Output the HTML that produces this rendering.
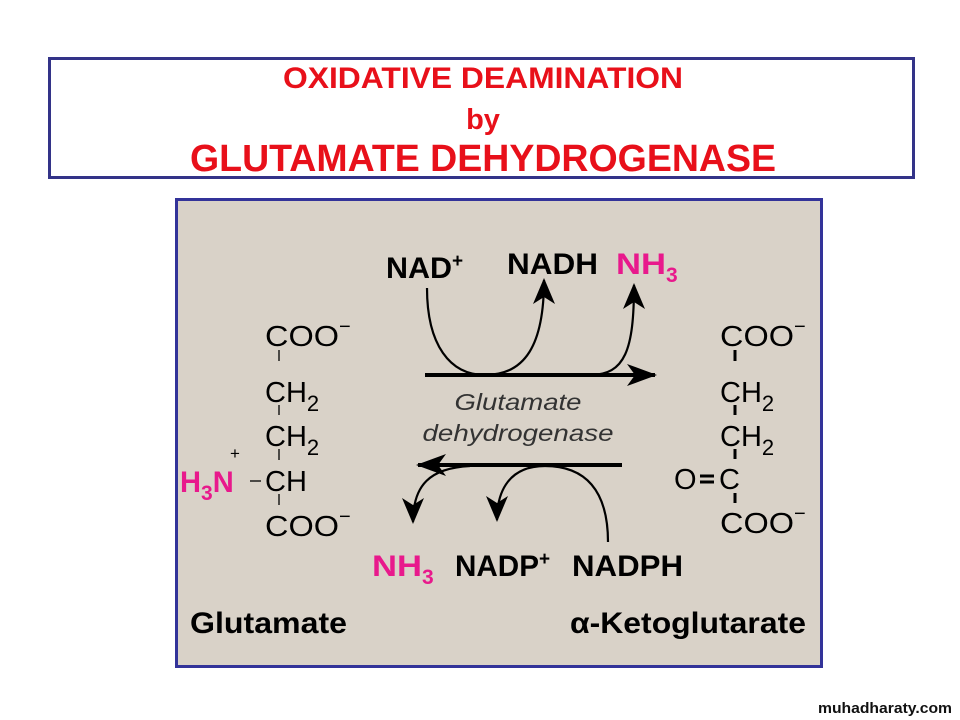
<!DOCTYPE html>
<html><head><meta charset="utf-8"><style>
html,body{margin:0;padding:0;background:#fff;width:960px;height:720px;overflow:hidden}
svg{display:block}
</style></head><body>
<svg width="960" height="720" viewBox="0 0 960 720" xmlns="http://www.w3.org/2000/svg" font-family="Liberation Sans, sans-serif">
<rect x="49.5" y="58.5" width="864" height="119" fill="#fff" stroke="#333388" stroke-width="3"/>
<g fill="#e8101a" font-weight="bold" text-anchor="middle">
<text x="483" y="88" font-size="30" textLength="400" lengthAdjust="spacingAndGlyphs">OXIDATIVE DEAMINATION</text>
<text x="483" y="129" font-size="29">by</text>
<text x="483" y="171" font-size="38" textLength="586" lengthAdjust="spacingAndGlyphs">GLUTAMATE DEHYDROGENASE</text>
</g>
<rect x="176.5" y="199.5" width="645" height="467" fill="#d9d2c8" stroke="#333399" stroke-width="3"/>
<defs>
<marker id="b" markerWidth="30" markerHeight="24" refX="28" refY="12" orient="auto" markerUnits="userSpaceOnUse" viewBox="0 0 30 24"><path d="M0,1 L30,12 L0,23 L8,12z" fill="#000"/></marker>
<marker id="c" markerWidth="26" markerHeight="24" refX="24" refY="12" orient="auto" markerUnits="userSpaceOnUse" viewBox="0 0 26 24"><path d="M0,1 L26,12 L0,23 L7,12z" fill="#000"/></marker></defs>
<g fill="none" stroke="#000">
<path d="M425,375 L655,375" stroke-width="4" marker-end="url(#b)"/>
<path d="M622,465 L418,465" stroke-width="4" marker-end="url(#b)"/>
<path d="M427,288 C427,345 450,375 485,375 C525,375 544,345 544,280" stroke-width="2.2" marker-end="url(#c)"/>
<path d="M590,375 C625,375 634,350 634,285" stroke-width="2.2" marker-end="url(#c)"/>
<path d="M608,542 C608,490 585,466 545,466 C510,466 497,490 497,520" stroke-width="2.2" marker-end="url(#c)"/>
<path d="M470,466 C430,468 413,485 413,522" stroke-width="2.2" marker-end="url(#c)"/>
</g>
<g font-weight="bold" font-size="30" fill="#000">
<text x="386" y="278"><tspan textLength="66" lengthAdjust="spacingAndGlyphs">NAD</tspan><tspan font-size="19" dy="-11">+</tspan></text>
<text x="507" y="274" textLength="91" lengthAdjust="spacingAndGlyphs">NADH</text>
<text x="616" y="274" fill="#e8198c"><tspan textLength="50" lengthAdjust="spacingAndGlyphs">NH</tspan><tspan font-size="21" dy="8">3</tspan></text>
<text x="372" y="576" fill="#e8198c"><tspan textLength="50" lengthAdjust="spacingAndGlyphs">NH</tspan><tspan font-size="21" dy="8">3</tspan></text>
<text x="455" y="576"><tspan textLength="84" lengthAdjust="spacingAndGlyphs">NADP</tspan><tspan font-size="19" dy="-11">+</tspan></text>
<text x="572" y="576" textLength="111" lengthAdjust="spacingAndGlyphs">NADPH</text>
<text x="190" y="633" textLength="157" lengthAdjust="spacingAndGlyphs">Glutamate</text>
<text x="570" y="633" textLength="236" lengthAdjust="spacingAndGlyphs">α-Ketoglutarate</text>
<text x="180" y="492" fill="#e8198c"><tspan textLength="21" lengthAdjust="spacingAndGlyphs">H</tspan><tspan font-size="21" dy="8">3</tspan><tspan dy="-8" textLength="21" lengthAdjust="spacingAndGlyphs">N</tspan></text>
</g>
<g font-style="italic" font-size="23" fill="#333" text-anchor="middle">
<text x="518" y="410" textLength="127" lengthAdjust="spacingAndGlyphs">Glutamate</text>
<text x="518" y="441" textLength="191" lengthAdjust="spacingAndGlyphs">dehydrogenase</text>
</g>
<g font-size="29" fill="#000">
<text x="265" y="346"><tspan textLength="74" lengthAdjust="spacingAndGlyphs">COO</tspan><tspan font-size="20" dy="-13">−</tspan></text>
<text x="265" y="402">CH<tspan font-size="22" dy="9">2</tspan></text>
<text x="265" y="446">CH<tspan font-size="22" dy="9">2</tspan></text>
<text x="265" y="491">CH</text>
<text x="265" y="536"><tspan textLength="74" lengthAdjust="spacingAndGlyphs">COO</tspan><tspan font-size="20" dy="-13">−</tspan></text>
<text x="230" y="459" font-size="17">+</text>
<text x="720" y="346"><tspan textLength="74" lengthAdjust="spacingAndGlyphs">COO</tspan><tspan font-size="20" dy="-13">−</tspan></text>
<text x="720" y="402">CH<tspan font-size="22" dy="9">2</tspan></text>
<text x="720" y="446">CH<tspan font-size="22" dy="9">2</tspan></text>
<text x="674" y="489">O</text>
<text x="719" y="489">C</text>
<text x="720" y="533"><tspan textLength="74" lengthAdjust="spacingAndGlyphs">COO</tspan><tspan font-size="20" dy="-13">−</tspan></text>
</g>
<g stroke="#000" stroke-width="1.3">
<line x1="279" y1="350" x2="279" y2="361"/>
<line x1="279" y1="405" x2="279" y2="415"/>
<line x1="279" y1="449" x2="279" y2="460"/>
<line x1="279" y1="494" x2="279" y2="505"/>
<line x1="250" y1="481" x2="261" y2="481"/>
</g>
<g stroke="#000" stroke-width="3">
<line x1="735" y1="350" x2="735" y2="361"/>
<line x1="735" y1="405" x2="735" y2="415"/>
<line x1="735" y1="449" x2="735" y2="459"/>
<line x1="735" y1="493" x2="735" y2="503"/>
<line x1="700" y1="476" x2="714" y2="476"/>
<line x1="700" y1="482" x2="714" y2="482"/>
</g>
<text x="818" y="713" font-size="15" font-weight="bold" fill="#111" textLength="134" lengthAdjust="spacingAndGlyphs">muhadharaty.com</text>
</svg>
</body></html>
